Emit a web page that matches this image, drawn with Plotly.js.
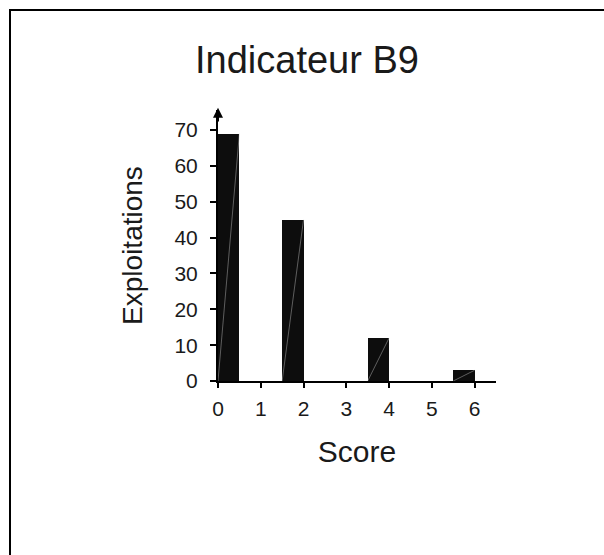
<!DOCTYPE html>
<html>
<head>
<meta charset="utf-8">
<script src="https://cdn.plot.ly/plotly-3.0.1.min.js"></script>
<style>
  html, body { margin: 0; padding: 0; background: #fff; }
  #wrap { position: relative; width: 604px; height: 555px; overflow: hidden; }
  #chart { position: absolute; left: 0; top: 0; width: 604px; height: 555px; }
  #frame { position: absolute; left: 9px; top: 9px; width: 620px; height: 560px;
           border-left: 2px solid #000; border-top: 2px solid #000; pointer-events: none; }
</style>
</head>
<body>
<div id="wrap">
  <div id="chart"></div>
  <div id="frame"></div>
</div>
<script>
// Data
const scores = [0, 2, 4, 6];
const counts = [69, 45, 12, 3];
const xTicks = [0, 1, 2, 3, 4, 5, 6];
const yTicks = [0, 10, 20, 30, 40, 50, 60, 70];

const barWidth = 0.5;
const offsets = scores.map((s, i) => (i === 0 ? 0 : -barWidth));

const font = "Liberation Sans, Arial, sans-serif";
const txt = "#1a1a1a";

const bars = {
  type: "bar",
  x: scores,
  y: counts,
  width: scores.map(() => barWidth),
  offset: offsets,
  marker: { color: "#0d0d0d", line: { width: 0 } },
  hoverinfo: "skip",
  showlegend: false
};

// faint diagonal artefact lines seen inside each bar
const diagX = [], diagY = [];
scores.forEach((s, i) => {
  const left = s + offsets[i];
  diagX.push(left, left + barWidth, null);
  diagY.push(0, counts[i], null);
});
const diag = {
  type: "scatter", mode: "lines", x: diagX, y: diagY,
  line: { color: "rgba(200,200,200,0.55)", width: 0.8 },
  hoverinfo: "skip", showlegend: false
};

const layout = {
  width: 604, height: 555,
  margin: { l: 218, r: 108, t: 110, b: 174, pad: 0 },
  paper_bgcolor: "#ffffff", plot_bgcolor: "#ffffff",
  font: { family: font, color: txt },
  title: {
    text: "Indicateur B9",
    font: { family: font, size: 38, color: txt },
    x: 307 / 604, xanchor: "center", xref: "container",
    y: 1 - 60 / 555, yanchor: "middle", yref: "container"
  },
  bargap: 0,
  xaxis: {
    range: [0, 6.5], tickvals: xTicks, ticktext: xTicks.map(String),
    showgrid: false, zeroline: false, showline: true, linecolor: "#000", linewidth: 2,
    ticks: "outside", ticklen: 5, tickwidth: 2, tickcolor: "#000",
    tickfont: { family: font, size: 21, color: txt },
    ticklabelstandoff: 3,
    title: { text: "Score", font: { family: font, size: 30, color: txt }, standoff: 22 }
  },
  yaxis: {
    range: [0, 75.6], tickvals: yTicks, ticktext: yTicks.map(String),
    showgrid: false, zeroline: false, showline: true, linecolor: "#000", linewidth: 2,
    ticks: "outside", ticklen: 6, tickwidth: 2, tickcolor: "#000",
    tickfont: { family: font, size: 21, color: txt },
    ticklabelstandoff: 8,
    title: { text: "Exploitations", font: { family: font, size: 28, color: txt }, standoff: 24 }
  },
  annotations: [{
    x: 0, y: 76.2, ax: 0, ay: 72, xref: "x", yref: "y", axref: "x", ayref: "y",
    showarrow: true, arrowhead: 2, arrowsize: 1, arrowwidth: 2, arrowcolor: "#000", text: ""
  }]
};

Plotly.newPlot("chart", [bars, diag], layout, { staticPlot: true, displayModeBar: false });
</script>
</body>
</html>
